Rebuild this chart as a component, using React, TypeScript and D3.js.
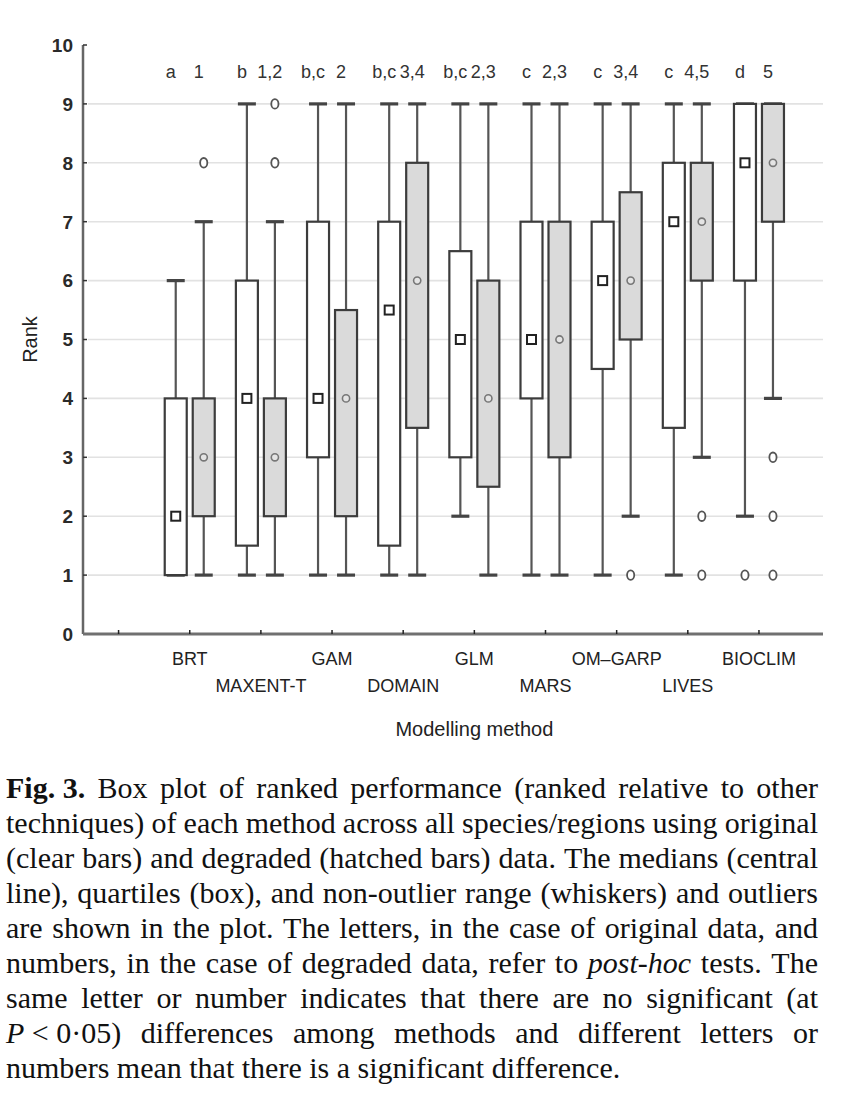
import React, { useMemo } from "react";
import * as d3 from "d3";

// ---------- data ----------
const categories = ["BRT", "MAXENT-T", "GAM", "DOMAIN", "GLM", "MARS", "OM–GARP", "LIVES", "BIOCLIM"];

// original data (clear boxes)
const origLow = [1, 1, 1, 1, 2, 1, 1, 1, 2];
const origQ1 = [1, 1.5, 3, 1.5, 3, 4, 4.5, 3.5, 6];
const origMed = [2, 4, 4, 5.5, 5, 5, 6, 7, 8];
const origQ3 = [4, 6, 7, 7, 6.5, 7, 7, 8, 9];
const origHigh = [6, 9, 9, 9, 9, 9, 9, 9, 9];
const origOutliers = [[], [], [], [], [], [], [], [], [1]];
const origLetters = ["a", "b", "b,c", "b,c", "b,c", "c", "c", "c", "d"];

// degraded data (hatched boxes)
const degLow = [1, 1, 1, 1, 1, 1, 2, 3, 4];
const degQ1 = [2, 2, 2, 3.5, 2.5, 3, 5, 6, 7];
const degMed = [3, 3, 4, 6, 4, 5, 6, 7, 8];
const degQ3 = [4, 4, 5.5, 8, 6, 7, 7.5, 8, 9];
const degHigh = [7, 7, 9, 9, 9, 9, 9, 9, 9];
const degOutliers = [[8], [8, 9], [], [], [], [], [1], [2, 1], [3, 2, 1]];
const degNumbers = ["1", "1,2", "2", "3,4", "2,3", "2,3", "3,4", "4,5", "5"];

const yTicks = [0, 1, 2, 3, 4, 5, 6, 7, 8, 9, 10];
const gridValues = [1, 2, 3, 4, 5, 6, 7, 8, 9];
const xTickIdx = [0, 1, 2, 3, 4, 5, 6, 7, 8, 9];

const yTitle = "Rank";
const xTitle = "Modelling method";

// words joined with "~" keep a normal space between them (not stretched)
const captionLines = [
  "**Fig.**~**3.** Box plot of ranked performance (ranked relative to other",
  "techniques) of each method across all species/regions using original",
  "(clear bars) and degraded (hatched bars) data. The medians (central",
  "line), quartiles (box), and non-outlier range (whiskers) and outliers",
  "are shown in the plot. The letters, in the case of original data, and",
  "numbers, in the case of degraded data, refer to _post-hoc_ tests. The",
  "same letter or number indicates that there are no significant (at",
  "_P_~<~0·05) differences among methods and different letters or",
  "numbers mean that there is a significant difference.",
];

// ---------- layout ----------
const W = 851;
const H = 1114;
const SANS = "'Liberation Sans', Arial, Helvetica, sans-serif";
const SERIF = "'Liberation Serif', 'Times New Roman', Times, serif";
const CAP_FS = 30;
const CAP_LEFT = 6;
const CAP_RIGHT = 818;
const CAP_TOP = 798;
const CAP_LH = 35;

type Tok = { t: string; w: string; s: string };

function parseTok(word: string): Tok {
  let m = word.match(/^\*\*(.*)\*\*$/);
  if (m) return { t: m[1], w: "bold", s: "normal" };
  m = word.match(/^_(.*)_$/);
  if (m) return { t: m[1], w: "normal", s: "italic" };
  return { t: word, w: "normal", s: "normal" };
}

export default function App() {
  const x = d3.scaleLinear().domain([-0.5, 9.9]).range([83, 823]);
  const y = d3.scaleLinear().domain([0, 10]).range([634, 45]);
  const off = 14;
  const bw = 22;
  const capW = 18;

  const caption = useMemo(() => {
    const canvas = document.createElement("canvas");
    const ctx = canvas.getContext("2d")!;
    const measure = (tok: Tok) => {
      ctx.font = `${tok.s} ${tok.w} ${CAP_FS}px 'Liberation Serif'`;
      return ctx.measureText(tok.t).width;
    };
    ctx.font = `normal normal ${CAP_FS}px 'Liberation Serif'`;
    const spaceW = ctx.measureText(" ").width;
    const out: { t: string; w: string; s: string; x: number; y: number }[][] = [];
    captionLines.forEach((line, li) => {
      const groups = line.split(" ").map((g) => g.split("~").map(parseTok));
      const gw = groups.map((g) => d3.sum(g.map(measure)) + spaceW * (g.length - 1));
      const total = d3.sum(gw);
      const last = li === captionLines.length - 1;
      const gap = last || groups.length < 2 ? spaceW : (CAP_RIGHT - CAP_LEFT - total) / (groups.length - 1);
      let cx = CAP_LEFT;
      const items: { t: string; w: string; s: string; x: number; y: number }[] = [];
      groups.forEach((g) => {
        g.forEach((tok, j) => {
          items.push({ ...tok, x: cx, y: CAP_TOP + li * CAP_LH });
          cx += measure(tok) + (j < g.length - 1 ? spaceW : 0);
        });
        cx += gap;
      });
      out.push(items);
    });
    return out;
  }, []);

  const series = [
    { low: origLow, q1: origQ1, med: origMed, q3: origQ3, high: origHigh, out: origOutliers, labels: origLetters, dx: -off, fill: "#ffffff", kind: "orig" },
    { low: degLow, q1: degQ1, med: degMed, q3: degQ3, high: degHigh, out: degOutliers, labels: degNumbers, dx: off, fill: "#dadada", kind: "deg" },
  ];

  return (
    <svg width={W} height={H} style={{ position: "absolute", left: 0, top: 0, background: "#fff" }}>
      <rect x={0} y={0} width={W} height={H} fill="#fff" />
      {/* grid */}
      {gridValues.map((v) => (
        <line key={"g" + v} x1={x(-0.5) + 5} x2={x(9.9)} y1={y(v)} y2={y(v)} stroke="#e2e2e2" strokeWidth={1.6} />
      ))}
      {/* y axis */}
      <line x1={x(-0.5)} x2={x(-0.5)} y1={y(10)} y2={y(0)} stroke="#666" strokeWidth={2.5} />
      {yTicks.map((v) => (
        <g key={"yt" + v}>
          <line x1={x(-0.5)} x2={x(-0.5) + 4} y1={y(v)} y2={y(v)} stroke="#333" strokeWidth={1.5} />
          <text x={73} y={y(v)} dy="0.36em" textAnchor="end" fontFamily={SANS} fontSize={19} fontWeight="bold" fill="#2a2a2a">
            {v}
          </text>
        </g>
      ))}
      {/* x axis */}
      <line x1={x(-0.5)} x2={x(9.9)} y1={y(0)} y2={y(0)} stroke="#707070" strokeWidth={3} />
      {xTickIdx.map((i) => (
        <line key={"xt" + i} x1={x(i)} x2={x(i)} y1={y(0)} y2={y(0) - 4} stroke="#222" strokeWidth={1.5} />
      ))}
      {categories.map((c, k) => {
        const i = k + 1;
        const row = k % 2 === 0 ? 0 : 1;
        return (
          <text key={"xl" + c} x={x(i)} y={row === 0 ? 665 : 692} textAnchor="middle" fontFamily={SANS} fontSize={18} fill="#222">
            {c}
          </text>
        );
      })}
      <text x={x(5)} y={736} textAnchor="middle" fontFamily={SANS} fontSize={20} fill="#222">
        {xTitle}
      </text>
      <text transform={`translate(37, ${y(5)}) rotate(-90)`} textAnchor="middle" fontFamily={SANS} fontSize={20} fill="#222">
        {yTitle}
      </text>

      {/* boxes */}
      {series.map((s) =>
        categories.map((c, k) => {
          const cx = x(k + 1) + s.dx;
          return (
            <g key={s.kind + c}>
              <line x1={cx} x2={cx} y1={y(s.high[k])} y2={y(s.q3[k])} stroke="#555" strokeWidth={2.2} />
              <line x1={cx} x2={cx} y1={y(s.q1[k])} y2={y(s.low[k])} stroke="#555" strokeWidth={2.2} />
              <line x1={cx - capW / 2} x2={cx + capW / 2} y1={y(s.high[k])} y2={y(s.high[k])} stroke="#444" strokeWidth={3.2} />
              <line x1={cx - capW / 2} x2={cx + capW / 2} y1={y(s.low[k])} y2={y(s.low[k])} stroke="#444" strokeWidth={3.2} />
              <rect x={cx - bw / 2} y={y(s.q3[k])} width={bw} height={y(s.q1[k]) - y(s.q3[k])} fill={s.fill} stroke="#3c3c3c" strokeWidth={2.2} />
              {s.kind === "orig" ? (
                <rect x={cx - 4.5} y={y(s.med[k]) - 4.5} width={9} height={9} fill="#fff" stroke="#222" strokeWidth={2} />
              ) : (
                <circle cx={cx} cy={y(s.med[k])} r={3.6} fill="#e4e4e4" stroke="#777" strokeWidth={1.6} />
              )}
              {s.out[k].map((o) => (
                <ellipse key={"o" + o} cx={cx} cy={y(o)} rx={3.6} ry={4.8} fill="#fff" stroke="#555" strokeWidth={1.8} />
              ))}
              <text x={cx - 5} y={78} textAnchor="middle" fontFamily={SANS} fontSize={18} fill="#333">
                {s.labels[k]}
              </text>
            </g>
          );
        })
      )}

      {/* caption */}
      {caption.map((line, li) => (
        <g key={"cl" + li}>
          {line.map((tok, i) => (
            <text key={i} x={tok.x} y={tok.y} fontFamily={SERIF} fontSize={CAP_FS} fontWeight={tok.w} fontStyle={tok.s} fill="#111">
              {tok.t}
            </text>
          ))}
        </g>
      ))}
    </svg>
  );
}
